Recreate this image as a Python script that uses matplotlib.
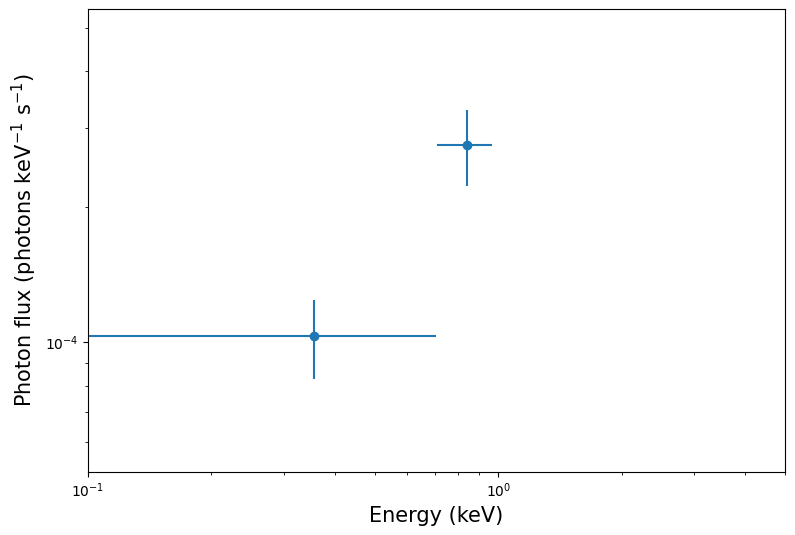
import matplotlib
matplotlib.use('Agg')
import matplotlib.pyplot as plt

# Spectrum points
energy = [0.356, 0.838]
energy_err = [0.35, 0.13]
flux = [1.033e-4, 2.745e-4]
flux_err_low = [0.203e-4, 0.52e-4]
flux_err_high = [0.209e-4, 0.535e-4]

fig = plt.figure(figsize=(7.95, 5.35), dpi=100)
ax = fig.add_axes([0.1107, 0.1183, 0.8767, 0.8643])

ax.errorbar(energy, flux, xerr=energy_err,
            yerr=[flux_err_low, flux_err_high], fmt='o', color='#1f77b4')

ax.set_xscale('log')
ax.set_yscale('log')
ax.set_xlim(0.1, 5.0)
ax.set_ylim(5.15e-5, 5.5e-4)

ax.set_xlabel('Energy (keV)', fontsize=15)
ax.set_ylabel(r'Photon flux (photons keV$^{-1}$ s$^{-1}$)', fontsize=15)

fig.savefig('out.png', dpi=100)
